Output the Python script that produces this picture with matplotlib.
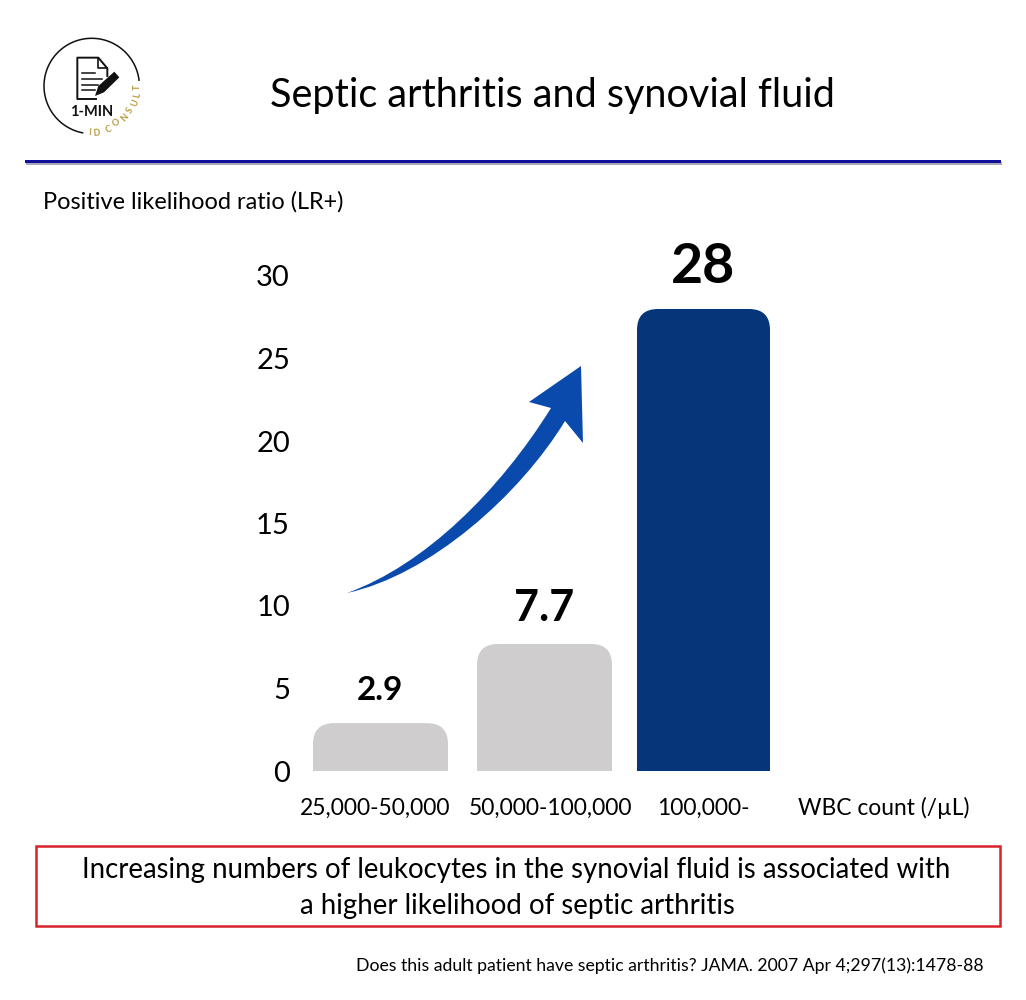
import numpy as np
import matplotlib
matplotlib.use("Agg")
import matplotlib.pyplot as plt
from matplotlib.path import Path
from matplotlib.patches import PathPatch, Rectangle

plt.rcParams['font.family'] = ['Lato', 'DejaVu Sans']

# Chart data
wbc_ranges = ["25,000-50,000", "50,000-100,000", "100,000-"]
lr_values = [2.9, 7.7, 28]
lr_labels = ["2.9", "7.7", "28"]
y_ticks = [0, 5, 10, 15, 20, 25, 30]

# Layout (x axis is in figure pixels so bars line up with the slide)
bar_lefts = [313, 477, 637]
bar_rights = [448, 612, 770]
label_centers = [375, 551, 703]
bar_colors = ['#cfcdce', '#cfcdce', '#06357a']
value_sizes = [24, 31, 40]
value_ys = [691, 608, 267]
corner_px = 21

W, H = 1026, 1000
AX_LEFT, AX_RIGHT, AX_BOTTOM, Y_SCALE = 290, 800, 771, 16.5

fig = plt.figure(figsize=(W / 100, H / 100), dpi=100, facecolor='white')
ax = fig.add_axes([AX_LEFT / W, (H - AX_BOTTOM) / H, (AX_RIGHT - AX_LEFT) / W, 30 * Y_SCALE / H])
ax.set_xlim(AX_LEFT, AX_RIGHT)
ax.set_ylim(0, 30)
ax.patch.set_alpha(0)
for s in ax.spines.values():
    s.set_visible(False)


def rounded_top(x0, x1, top, r_px):
    ry = min(r_px / Y_SCALE, top)
    verts = [(x0, 0), (x0, top - ry), (x0, top), (x0 + r_px, top),
             (x1 - r_px, top), (x1, top), (x1, top - ry), (x1, 0), (x0, 0)]
    codes = [Path.MOVETO, Path.LINETO, Path.CURVE3, Path.CURVE3,
             Path.LINETO, Path.CURVE3, Path.CURVE3, Path.LINETO, Path.CLOSEPOLY]
    return Path(verts, codes)


for x0, x1, val, col in zip(bar_lefts, bar_rights, lr_values, bar_colors):
    ax.add_patch(PathPatch(rounded_top(x0, x1, val, corner_px), fc=col, ec='none'))

ax.set_yticks(y_ticks)
ax.set_xticks(label_centers, wbc_ranges)
ax.tick_params(axis='y', length=0, pad=0, labelsize=21)
ax.tick_params(axis='x', length=0, pad=19.5, labelsize=16.5)

# Overlay in pixel coordinates for slide furniture
ov = fig.add_axes([0, 0, 1, 1], zorder=5)
ov.set_xlim(0, W)
ov.set_ylim(H, 0)
ov.axis('off')
ov.patch.set_alpha(0)

for x0, x1, lab, size, y in zip(bar_lefts, bar_rights, lr_labels, value_sizes, value_ys):
    ov.text((x0 + x1) / 2 - 0.5, y, lab, fontsize=size, fontweight='bold', ha='center', va='center', color='black')

ov.text(552, 95, "Septic arthritis and synovial fluid", fontsize=28.5, ha='center', va='center', color='black')
ov.add_patch(Rectangle((26, 162), 976, 3, fc='#a9a9b8', ec='none'))
ov.add_patch(Rectangle((25, 159.5), 976, 3.5, fc='#10109a', ec='none'))
ov.text(43, 202, "Positive likelihood ratio (LR+)", fontsize=16.9, ha='left', va='center', color='black')
ov.text(884, 808, "WBC count (/\u00b5L)", fontsize=16.4, ha='center', va='center', color='black')

# Curved arrow
arrow_verts = [(347, 593),
               (425, 565), (500, 490), (551, 408),
               (529, 402),
               (581, 366),
               (583, 443),
               (565, 421),
               (520, 495), (430, 575), (347, 593)]
arrow_codes = [Path.MOVETO,
               Path.CURVE4, Path.CURVE4, Path.CURVE4,
               Path.LINETO, Path.LINETO, Path.LINETO, Path.LINETO,
               Path.CURVE4, Path.CURVE4, Path.CURVE4]
ov.add_patch(PathPatch(Path(arrow_verts, arrow_codes), fc='#0a4aad', ec='none'))

# Message box and citation
ov.add_patch(Rectangle((36, 846), 964, 80, fc='white', ec='#d8232a', lw=1.8))
ov.text(516, 870, "Increasing numbers of leukocytes in the synovial fluid is associated with",
        fontsize=19.9, ha='center', va='center', color='black')
ov.text(517, 906, "a higher likelihood of septic arthritis", fontsize=19.9, ha='center', va='center', color='black')
ov.text(984, 966, "Does this adult patient have septic arthritis? JAMA. 2007 Apr 4;297(13):1478-88",
        fontsize=12.7, ha='right', va='center', color='black')

# Logo
cx, cy, r = 91.7, 86, 47.7
th = np.radians(np.linspace(7, 259, 120))
ov.plot(cx + r * np.cos(th), cy - r * np.sin(th), color='#111111', lw=1.1)
letter_xy = [(89.3, 132.7), (96.7, 132.7), (108.3, 129.3), (116.7, 123.3), (125, 117.3),
             (130, 110.7), (135, 103.3), (137.7, 95.7), (137.7, 87.3)]
for ch, (lx, ly) in zip("IDCONSULT", letter_xy):
    deg = np.degrees(np.arctan2(cy - ly, lx - cx)) + 90
    ov.text(lx, ly, ch, fontsize=6.5, fontweight='bold', color='#b89a3e',
            rotation=deg, ha='center', va='center', rotation_mode='anchor')


def z(pts):
    return [(20 + x / 3, 20 + y / 3) for x, y in pts]


doc = z([(228, 237), (172, 237), (172, 113), (235, 113), (262, 145), (262, 168)])
ov.plot(*zip(*doc), color='#111111', lw=1.4)
ov.plot(*zip(*z([(235, 113), (235, 145), (262, 145)])), color='#111111', lw=1.2)
for yy, xe in [(160, 225), (178, 245), (195, 235), (210, 225)]:
    ov.plot(*zip(*z([(185, yy), (xe, yy)])), color='#111111', lw=1.1)
ov.add_patch(plt.Polygon(z([(225, 228), (235, 198), (283, 155), (298, 172), (252, 217)]), fc='#111111', ec='none'))
ov.text(92, 112, "1-MIN", fontsize=10.5, fontweight='bold', ha='center', va='center', color='#111111')

fig.savefig('out.png', dpi=100, facecolor='white')
